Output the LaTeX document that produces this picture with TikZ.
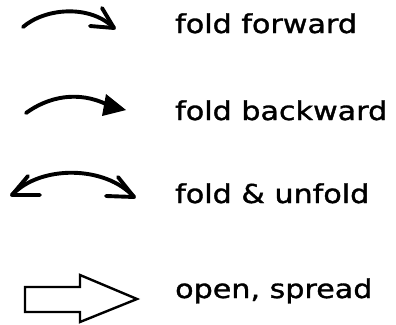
\documentclass[tikz,border=0pt]{standalone}
\usepackage{fontspec}
\setmainfont{DejaVu Sans}
\newfontfamily\lblfont[FakeBold=1.2]{DejaVu Sans}
\begin{document}
\begin{tikzpicture}[x=1pt,y=-1pt,
  curve/.style={line width=3.9pt,line cap=round,line join=round},
  lbl/.style={anchor=base west,inner sep=0pt,font=\lblfont\fontsize{26}{26}\selectfont}]
\useasboundingbox (0,0) rectangle (396,324);
\newcommand{\wide}[1]{\scalebox{1.16}[1]{#1}}
% fold forward
\coordinate (a1s) at (23,27);
\coordinate (a1e) at (114,28);
\draw[curve] (a1s) .. controls (45,8) and (90,4) .. (a1e);
\draw[curve] (102,8) -- (a1e) -- (90,26);
\node[lbl] (t1) at (175,33) {\wide{fold forward}};
% fold backward
\coordinate (a2s) at (26,113);
\coordinate (a2e) at (108,105);
\draw[curve] (a2s) .. controls (48,97) and (78,90) .. (a2e);
\fill[line join=round] (106,94) -- (126,110) -- (102,116) -- cycle;
\node[lbl] (t2) at (175,120) {\wide{fold backward}};
% fold & unfold
\coordinate (a3s) at (12,195);
\coordinate (a3e) at (134,197);
\draw[curve] (a3s) .. controls (40,165) and (105,165) .. (a3e);
\draw[curve] (28,176) -- (a3s) -- (40,195);
\draw[curve] (118,177) -- (a3e) -- (106,196);
\node[lbl] (t3) at (175,203) {\wide{fold \& unfold}};
% open, spread
\draw[line width=2.4pt,line join=miter] (25,287) -- (80,287) -- (80,275) -- (137,299) -- (80,322) -- (80,312) -- (25,312) -- cycle;
\node[lbl] (t4) at (175,298) {\wide{open, spread}};
\end{tikzpicture}
\end{document}
